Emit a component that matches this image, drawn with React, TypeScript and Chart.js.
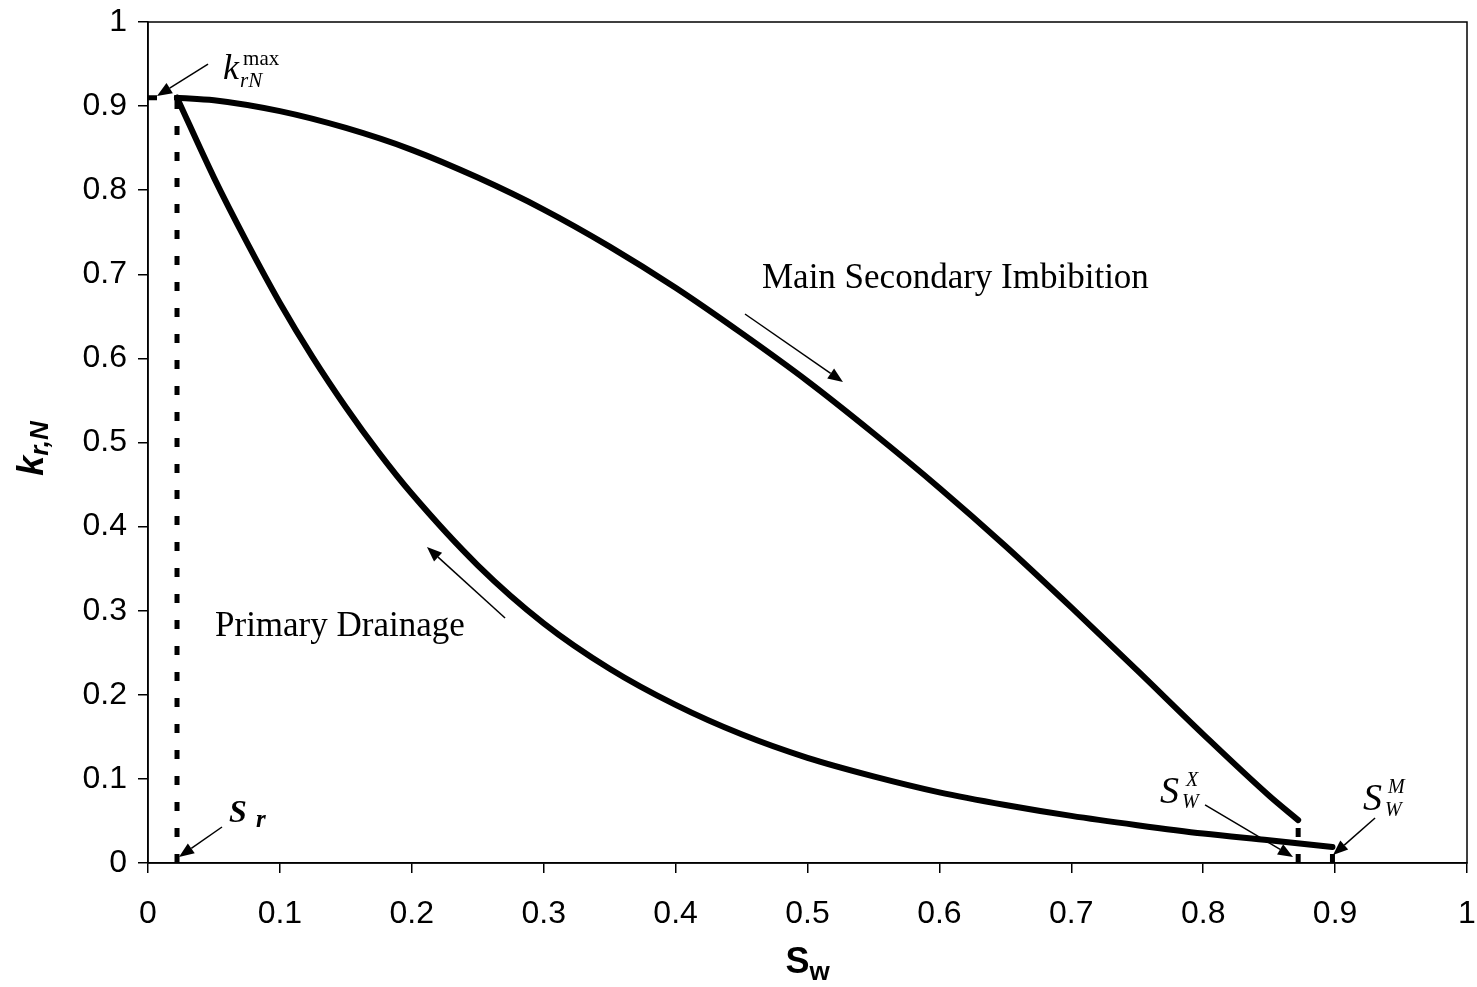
import { useEffect, useRef } from "react";
import { Chart, registerables } from "chart.js";

Chart.register(...registerables);

// Water saturation (x) and non-wetting relative permeability (y)
const drainageSw = [0.022, 0.05, 0.075, 0.1, 0.125, 0.15, 0.175, 0.2, 0.25, 0.3, 0.35, 0.4, 0.45, 0.5, 0.55, 0.6, 0.65, 0.7, 0.75, 0.8, 0.85, 0.898];
const drainageKr = [0.91, 0.815, 0.738, 0.666, 0.601, 0.542, 0.488, 0.439, 0.354, 0.285, 0.231, 0.188, 0.153, 0.125, 0.103, 0.084, 0.069, 0.056, 0.045, 0.035, 0.027, 0.019];

const imbibitionSw = [0.022, 0.05, 0.1, 0.15, 0.2, 0.25, 0.3, 0.35, 0.4, 0.45, 0.5, 0.55, 0.6, 0.65, 0.7, 0.75, 0.8, 0.85, 0.872];
const imbibitionKr = [0.91, 0.907, 0.894, 0.874, 0.848, 0.815, 0.777, 0.733, 0.684, 0.63, 0.573, 0.511, 0.446, 0.377, 0.304, 0.229, 0.153, 0.08, 0.051];

// Characteristic saturations and end points
const residualSw = 0.022;
const krMax = 0.91;
const swX = 0.872;
const krAtSwX = 0.051;
const swM = 0.898;
const krAtSwM = 0.019;

const xTickValues = [0, 0.1, 0.2, 0.3, 0.4, 0.5, 0.6, 0.7, 0.8, 0.9, 1];
const yTickValues = [0, 0.1, 0.2, 0.3, 0.4, 0.5, 0.6, 0.7, 0.8, 0.9, 1];

const SERIF = '"Liberation Serif", "Times New Roman", serif';
const SANS = '"Liberation Sans", Arial, sans-serif';

// Arrows in data coordinates: [fromX, fromY, toX, toY]
const arrows: number[][] = [
  [0.0455, 0.95, 0.0068, 0.912],
  [0.0561, 0.0428, 0.0235, 0.0071],
  [0.8014, 0.069, 0.8681, 0.0071],
  [0.9303, 0.0535, 0.8984, 0.0095],
  [0.4526, 0.6528, 0.5269, 0.5719],
  [0.2707, 0.2913, 0.2115, 0.3757],
];

type Piece = { text: string; font: string; dx: number; dy: number };
type Note = { x: number; y: number; pieces: Piece[] };

const notes: Note[] = [
  {
    x: 0.0569, y: 0.932,
    pieces: [
      { text: "k", font: `italic 36px ${SERIF}`, dx: 0, dy: 0 },
      { text: "max", font: `21px ${SERIF}`, dx: 20, dy: -14 },
      { text: "rN", font: `italic 21px ${SERIF}`, dx: 17, dy: 8 },
    ],
  },
  {
    x: 0.0614, y: 0.0488,
    pieces: [
      { text: "S", font: `italic bold 32px ${SERIF}`, dx: 0, dy: 0 },
      { text: "r", font: `italic bold 25px ${SERIF}`, dx: 27, dy: 5 },
    ],
  },
  {
    x: 0.7672, y: 0.0713,
    pieces: [
      { text: "S", font: `italic 38px ${SERIF}`, dx: 0, dy: 0 },
      { text: "X", font: `italic 20px ${SERIF}`, dx: 26, dy: -17 },
      { text: "W", font: `italic 20px ${SERIF}`, dx: 22, dy: 5 },
    ],
  },
  {
    x: 0.9212, y: 0.063,
    pieces: [
      { text: "S", font: `italic 38px ${SERIF}`, dx: 0, dy: 0 },
      { text: "M", font: `italic 20px ${SERIF}`, dx: 25, dy: -17 },
      { text: "W", font: `italic 20px ${SERIF}`, dx: 22, dy: 6 },
    ],
  },
  {
    x: 0.4655, y: 0.6837,
    pieces: [{ text: "Main Secondary Imbibition", font: `35px ${SERIF}`, dx: 0, dy: 0 }],
  },
  {
    x: 0.0508, y: 0.2699,
    pieces: [{ text: "Primary Drainage", font: `35px ${SERIF}`, dx: 0, dy: 0 }],
  },
];

const toPoints = (xs: number[], ys: number[]) => xs.map((v, i) => ({ x: v, y: ys[i] }));

const notesPlugin = {
  id: "curveNotes",
  afterDraw(chart: any) {
    const { ctx, chartArea, scales } = chart;
    const sx = scales.x;
    const sy = scales.y;
    ctx.save();

    // frame around the plot area
    ctx.strokeStyle = "#000";
    ctx.lineWidth = 1.5;
    ctx.strokeRect(chartArea.left, chartArea.top, chartArea.right - chartArea.left, chartArea.bottom - chartArea.top);

    // arrows
    ctx.fillStyle = "#000";
    ctx.lineWidth = 1.5;
    for (const [x0, y0, x1, y1] of arrows) {
      const px0 = sx.getPixelForValue(x0);
      const py0 = sy.getPixelForValue(y0);
      const px1 = sx.getPixelForValue(x1);
      const py1 = sy.getPixelForValue(y1);
      const ang = Math.atan2(py1 - py0, px1 - px0);
      const len = 15;
      const half = 6;
      const bx = px1 - len * Math.cos(ang);
      const by = py1 - len * Math.sin(ang);
      ctx.beginPath();
      ctx.moveTo(px0, py0);
      ctx.lineTo(bx, by);
      ctx.stroke();
      ctx.beginPath();
      ctx.moveTo(px1, py1);
      ctx.lineTo(bx + half * Math.sin(ang), by - half * Math.cos(ang));
      ctx.lineTo(bx - half * Math.sin(ang), by + half * Math.cos(ang));
      ctx.closePath();
      ctx.fill();
    }

    // text annotations
    ctx.textAlign = "left";
    ctx.textBaseline = "alphabetic";
    for (const n of notes) {
      const ax = sx.getPixelForValue(n.x);
      const ay = sy.getPixelForValue(n.y);
      for (const p of n.pieces) {
        ctx.font = p.font;
        ctx.fillText(p.text, ax + p.dx, ay + p.dy);
      }
    }

    // x-axis title: S_w
    const cx = (chartArea.left + chartArea.right) / 2;
    ctx.font = `bold 36px ${SANS}`;
    const sW = ctx.measureText("S").width;
    ctx.font = `bold 26px ${SANS}`;
    const wW = ctx.measureText("w").width;
    const startX = cx - (sW + wW) / 2;
    const base = chartArea.bottom + 110;
    ctx.font = `bold 36px ${SANS}`;
    ctx.fillText("S", startX, base);
    ctx.font = `bold 26px ${SANS}`;
    ctx.fillText("w", startX + sW, base + 7);

    // y-axis title: k_r,N
    const cy = (chartArea.top + chartArea.bottom) / 2 + 6;
    ctx.translate(43, cy);
    ctx.rotate(-Math.PI / 2);
    ctx.font = `italic bold 36px ${SANS}`;
    const kW = ctx.measureText("k").width;
    ctx.font = `italic bold 26px ${SANS}`;
    const rW = ctx.measureText("r,N").width;
    const s0 = -(kW + rW) / 2;
    ctx.font = `italic bold 36px ${SANS}`;
    ctx.fillText("k", s0, 0);
    ctx.font = `italic bold 26px ${SANS}`;
    ctx.fillText("r,N", s0 + kW, 5);

    ctx.restore();
  },
};

const fmt = (v: number | string) => {
  const n = Number(v);
  return Number(n.toFixed(1)).toString();
};

// keep the plot area fixed: drop the extra room the scales ask for around edge labels
const clearScalePadding = (scale: any) => {
  scale.paddingTop = 0;
  scale.paddingBottom = 0;
  scale.paddingLeft = 0;
  scale.paddingRight = 0;
};

export default function App() {
  const canvasRef = useRef<HTMLCanvasElement | null>(null);

  useEffect(() => {
    if (!canvasRef.current) return;
    const dashStyle = {
      borderColor: "#000",
      borderWidth: 5,
      borderDash: [9, 17],
      borderCapStyle: "butt" as const,
      pointRadius: 0,
      showLine: true,
      tension: 0,
    };
    const curveStyle = {
      showLine: true,
      borderColor: "#000",
      borderWidth: 6,
      borderCapStyle: "round" as const,
      borderJoinStyle: "round" as const,
      pointRadius: 0,
      cubicInterpolationMode: "monotone" as const,
    };
    const chart = new Chart(canvasRef.current, {
      type: "scatter",
      data: {
        datasets: [
          { ...dashStyle, data: [{ x: residualSw, y: 0 }, { x: residualSw, y: krMax }] },
          { ...dashStyle, data: [{ x: 0, y: krMax }, { x: residualSw, y: krMax }] },
          { ...dashStyle, data: [{ x: swX, y: 0 }, { x: swX, y: krAtSwX }] },
          { ...dashStyle, data: [{ x: swM, y: 0 }, { x: swM, y: krAtSwM }] },
          { ...curveStyle, label: "Primary Drainage", data: toPoints(drainageSw, drainageKr) },
          { ...curveStyle, label: "Main Secondary Imbibition", data: toPoints(imbibitionSw, imbibitionKr) },
        ],
      },
      options: {
        responsive: true,
        maintainAspectRatio: false,
        animation: false,
        layout: { padding: { left: 0, top: 22, right: 10, bottom: 0 } },
        plugins: { legend: { display: false }, tooltip: { enabled: false } },
        scales: {
          x: {
            type: "linear",
            min: 0,
            max: 1,
            afterBuildTicks: (scale: any) => {
              scale.ticks = xTickValues.map((v) => ({ value: v }));
            },
            afterFit: (scale: any) => {
              scale.height = 124;
              clearScalePadding(scale);
            },
            ticks: {
              color: "#000",
              font: { family: SANS, size: 32 },
              padding: 22,
              maxRotation: 0,
              callback: fmt,
            },
            grid: { drawOnChartArea: false, drawTicks: true, tickLength: 10, color: "#000", lineWidth: 1.5 },
            border: { color: "#000", width: 1.5 },
          },
          y: {
            type: "linear",
            min: 0,
            max: 1,
            afterBuildTicks: (scale: any) => {
              scale.ticks = yTickValues.map((v) => ({ value: v }));
            },
            afterFit: (scale: any) => {
              scale.width = 148;
              clearScalePadding(scale);
            },
            ticks: {
              color: "#000",
              font: { family: SANS, size: 32 },
              padding: 11,
              callback: fmt,
            },
            grid: { drawOnChartArea: false, drawTicks: true, tickLength: 10, color: "#000", lineWidth: 1.5 },
            border: { color: "#000", width: 1.5 },
          },
        },
      },
      plugins: [notesPlugin],
    } as any);
    return () => chart.destroy();
  }, []);

  return (
    <div style={{ position: "absolute", left: 0, top: 0, width: 1477, height: 987, background: "#fff" }}>
      <canvas ref={canvasRef} />
    </div>
  );
}
